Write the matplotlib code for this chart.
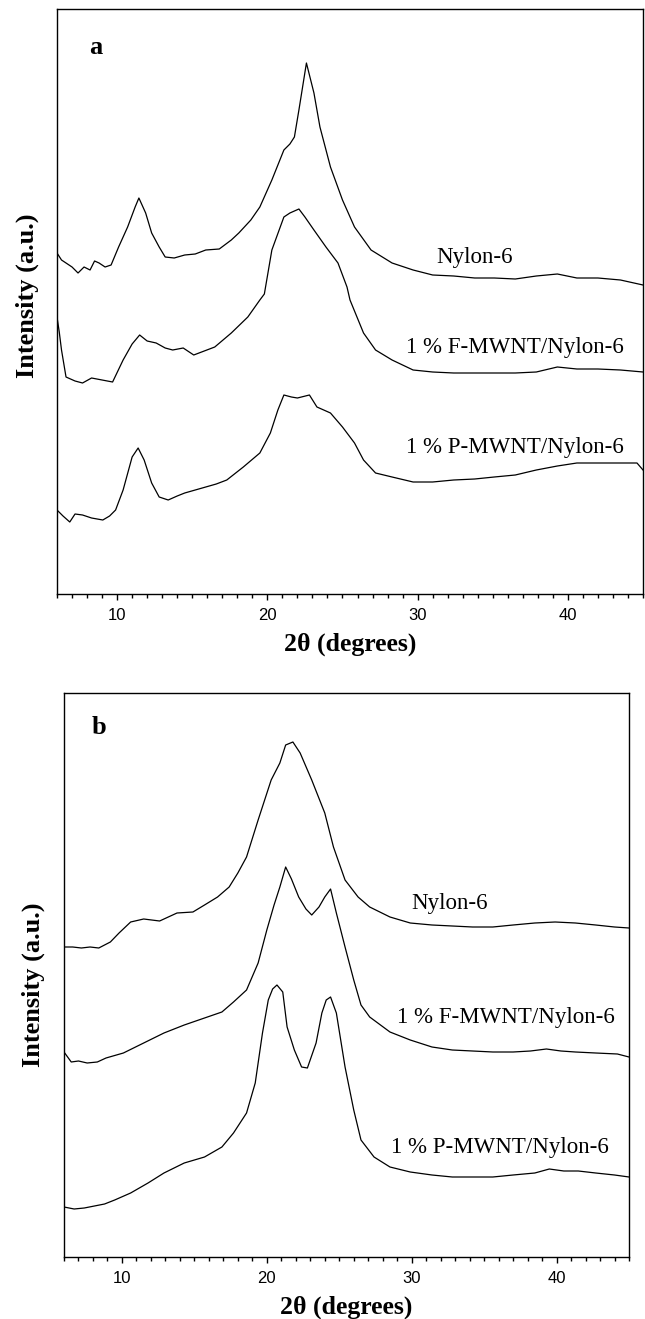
import matplotlib
matplotlib.use("Agg")
import matplotlib.pyplot as plt
from matplotlib.ticker import MultipleLocator

# ---------------- Panel (a) data ----------------
a_nylon_x = [6.0, 6.3, 6.6, 7.0, 7.4, 7.8, 8.2, 8.5, 8.8, 9.2, 9.6, 10.1, 10.7, 11.2, 11.45, 11.9, 12.3,
             12.8, 13.2, 13.8, 14.5, 15.2, 15.9, 16.8, 17.6, 18.1, 18.9, 19.5, 20.3, 21.1, 21.5, 21.8,
             22.1, 22.6, 23.1, 23.5, 24.2, 25.0, 25.8, 26.9, 28.3, 29.7, 31.0, 32.4, 33.8, 35.1, 36.5,
             37.9, 39.3, 40.6, 42.0, 43.5, 45.0]
a_nylon_y = [341, 334, 331, 327, 321, 327, 324, 333, 331, 327, 329, 347, 367, 387, 396, 381, 361,
             347, 337, 336, 339, 340, 344, 345, 354, 361, 374, 387, 414, 444, 450, 457,
             484, 531, 501, 467, 427, 394, 367, 344, 331, 324, 319, 318, 316, 316, 315,
             318, 320, 316, 316, 314, 309]

a_fmwnt_x = [6.0, 6.15, 6.3, 6.6, 7.2, 7.7, 8.3, 9.0, 9.7, 10.4, 11.0, 11.5, 12.0, 12.6, 13.2, 13.7,
             14.4, 15.1, 15.8, 16.5, 17.6, 18.7, 19.5, 19.8, 20.3, 21.1, 21.5, 22.1, 22.5, 23.1,
             23.9, 24.7, 25.3, 25.5, 26.4, 27.2, 28.3, 29.7, 31.0, 32.4, 33.8, 35.1, 36.5, 37.9,
             39.3, 40.6, 42.0, 43.5, 45.0]
a_fmwnt_y = [277, 262, 244, 217, 213, 211, 216, 214, 212, 234, 250, 259, 253, 251, 246, 244,
             246, 239, 243, 247, 261, 277, 294, 300, 344, 377, 381, 385, 377, 364,
             347, 331, 307, 294, 261, 244, 234, 224, 222, 221, 221, 221, 221, 222,
             227, 225, 225, 224, 222]

a_pmwnt_x = [6.0, 6.4, 6.85, 7.2, 7.7, 8.3, 9.05, 9.5, 9.9, 10.4, 11.0, 11.4, 11.8, 12.3, 12.8, 13.4,
             14.0, 14.5, 15.2, 15.9, 16.6, 17.3, 18.4, 19.5, 20.2, 20.7, 21.1, 21.6, 22.0, 22.8,
             23.3, 24.2, 25.0, 25.8, 26.4, 27.2, 28.3, 29.7, 31.0, 32.4, 33.8, 35.1, 36.5, 37.9,
             39.3, 40.6, 42.0, 43.4, 44.6, 45.0]
a_pmwnt_y = [84, 78, 72, 80, 79, 76, 74, 78, 84, 104, 137, 146, 134, 111, 97, 94,
             98, 101, 104, 107, 110, 114, 127, 141, 161, 184, 199, 197, 196, 199,
             187, 181, 167, 151, 134, 121, 117, 112, 112, 114, 115, 117, 119, 124,
             128, 131, 131, 131, 131, 124]

# ---------------- Panel (b) data ----------------
b_nylon_x = [6.0, 6.6, 7.2, 7.8, 8.4, 9.2, 9.8, 10.6, 11.5, 12.6, 13.8, 14.9, 15.7, 16.6, 17.4, 18.0,
             18.6, 19.4, 20.3, 20.9, 21.3, 21.8, 22.3, 23.1, 24.0, 24.6, 25.4, 26.3, 27.1, 28.5,
             29.9, 31.4, 32.8, 34.2, 35.6, 37.0, 38.5, 39.9, 41.3, 42.7, 44.0, 45.0]
b_nylon_y = [310, 310, 309, 310, 309, 315, 324, 335, 338, 336, 344, 345, 352, 360, 370, 384,
             400, 437, 477, 494, 512, 515, 504, 477, 444, 410, 377, 360, 350, 340,
             334, 332, 331, 330, 330, 332, 334, 335, 334, 332, 330, 329]

b_fmwnt_x = [6.0, 6.5, 7.0, 7.6, 8.3, 8.9, 10.1, 11.5, 12.9, 14.3, 15.7, 16.9, 17.7, 18.6,
             19.4, 20.0, 20.5, 20.9, 21.3, 21.7, 22.2, 22.7, 23.1, 23.6, 24.0, 24.4, 24.8, 25.4,
             26.0, 26.5, 27.1, 28.5, 29.9, 31.4, 32.8, 34.2, 35.6, 37.0, 38.2, 39.3, 40.3,
             41.3, 42.7, 44.2, 45.0]
b_fmwnt_y = [205, 195, 196, 194, 195, 199, 204, 214, 224, 232, 239, 245, 255, 267,
             294, 327, 352, 370, 390, 378, 360, 348, 342, 350, 360, 368, 344, 310,
             277, 252, 240, 225, 217, 210, 207, 206, 205, 205, 206, 208, 206,
             205, 204, 203, 200]

b_pmwnt_x = [6.0, 6.7, 7.4, 8.1, 8.8, 9.5, 10.6, 11.8, 12.9, 14.3, 15.7, 16.9, 17.7, 18.6, 19.2,
             19.7, 20.1, 20.4, 20.7, 21.1, 21.4, 21.9, 22.4, 22.8, 23.4, 23.8, 24.1, 24.4, 24.8,
             25.4, 26.0, 26.5, 27.4, 28.5, 29.9, 31.4, 32.8, 34.2, 35.6, 37.0, 38.5, 39.5,
             40.5, 41.5, 42.7, 44.0, 45.0]
b_pmwnt_y = [50, 48, 49, 51, 53, 57, 64, 74, 84, 94, 100, 110, 124, 144, 174,
             224, 257, 268, 272, 265, 230, 207, 190, 189, 214, 244, 257, 260, 244,
             190, 147, 117, 100, 90, 85, 82, 80, 80, 80, 82, 84, 88,
             86, 86, 84, 82, 80]

series_labels = ["Nylon-6", "1 % F-MWNT/Nylon-6", "1 % P-MWNT/Nylon-6"]
a_label_pos = [(33.8, 337), (36.5, 247), (36.5, 147)]
b_label_pos = [(32.6, 354), (36.5, 239), (36.1, 110)]

serif = ["Liberation Serif", "DejaVu Serif"]
narrow = ["Liberation Sans Narrow", "Liberation Sans", "DejaVu Sans"]

fig = plt.figure(figsize=(6.45, 13.19), dpi=100)

panels = [
    dict(rect=[57/645, 1-594/1319, 586/645, 585/1319], ylim=(0, 585),
         series=[(a_nylon_x, a_nylon_y), (a_fmwnt_x, a_fmwnt_y), (a_pmwnt_x, a_pmwnt_y)],
         labpos=a_label_pos, letter="a", letter_pos=(8.6, 546), ylab_x=27/645, ylab_y=1-296/1319),
    dict(rect=[64/645, 1-1257/1319, 565/645, 564/1319], ylim=(0, 564),
         series=[(b_nylon_x, b_nylon_y), (b_fmwnt_x, b_fmwnt_y), (b_pmwnt_x, b_pmwnt_y)],
         labpos=b_label_pos, letter="b", letter_pos=(8.4, 529), ylab_x=33/645, ylab_y=1-985/1319),
]

for p in panels:
    ax = fig.add_axes(p["rect"])
    for (x, y) in p["series"]:
        ax.plot(x, y, color="black", lw=0.9)
    ax.set_xlim(6, 45)
    ax.set_ylim(*p["ylim"])
    ax.set_yticks([])
    ax.xaxis.set_major_locator(MultipleLocator(10))
    ax.xaxis.set_minor_locator(MultipleLocator(1))
    ax.tick_params(axis="x", which="major", direction="out", length=4, width=1, pad=6)
    ax.tick_params(axis="x", which="minor", direction="out", length=3, width=1)
    for lab in ax.get_xticklabels():
        lab.set_family(narrow)
        lab.set_fontsize(12)
    for s in ax.spines.values():
        s.set_linewidth(1.0)
    for lab, (lx, ly) in zip(series_labels, p["labpos"]):
        ax.text(lx, ly, lab, ha="center", va="center", family=serif, fontsize=16.5)
    ax.text(p["letter_pos"][0], p["letter_pos"][1], p["letter"], ha="center", va="center",
            family=serif, fontweight="bold", fontsize=19)
    ax.set_xlabel("2θ (degrees)", family=serif, fontweight="bold", fontsize=18.5, labelpad=7)
    fig.text(p["ylab_x"], p["ylab_y"], "Intensity (a.u.)", rotation=90, ha="center", va="center",
             family=serif, fontweight="bold", fontsize=19)

fig.savefig("out.png", dpi=100)
